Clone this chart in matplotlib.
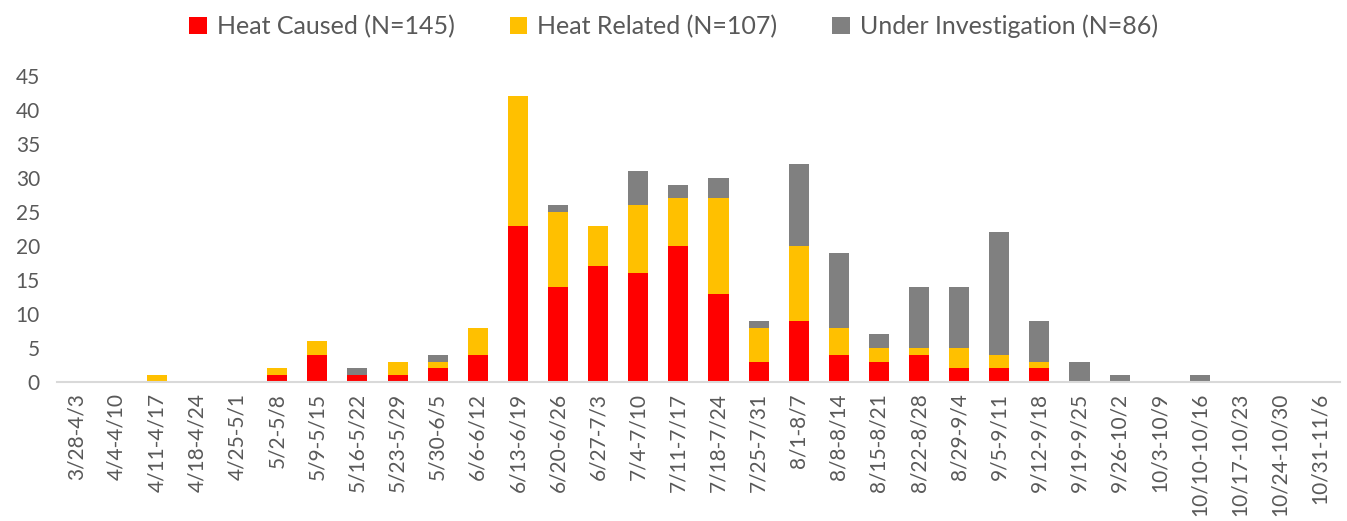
import matplotlib.pyplot as plt
import numpy as np

plt.rcParams['font.family'] = ['Lato', 'DejaVu Sans']

weeks = ['3/28-4/3', '4/4-4/10', '4/11-4/17', '4/18-4/24', '4/25-5/1', '5/2-5/8',
         '5/9-5/15', '5/16-5/22', '5/23-5/29', '5/30-6/5', '6/6-6/12', '6/13-6/19',
         '6/20-6/26', '6/27-7/3', '7/4-7/10', '7/11-7/17', '7/18-7/24', '7/25-7/31',
         '8/1-8/7', '8/8-8/14', '8/15-8/21', '8/22-8/28', '8/29-9/4', '9/5-9/11',
         '9/12-9/18', '9/19-9/25', '9/26-10/2', '10/3-10/9', '10/10-10/16',
         '10/17-10/23', '10/24-10/30', '10/31-11/6']
heat_caused = [0, 0, 0, 0, 0, 1, 4, 1, 1, 2, 4, 23, 14, 17, 16, 20, 13, 3, 9, 4,
               3, 4, 2, 2, 2, 0, 0, 0, 0, 0, 0, 0]
heat_related = [0, 0, 1, 0, 0, 1, 2, 0, 2, 1, 4, 19, 11, 6, 10, 7, 14, 5, 11, 4,
                2, 1, 3, 2, 1, 0, 0, 0, 0, 0, 0, 0]
under_investigation = [0, 0, 0, 0, 0, 0, 0, 1, 0, 1, 0, 0, 1, 0, 5, 2, 3, 1, 12, 11,
                       2, 9, 9, 18, 6, 3, 1, 0, 1, 0, 0, 0]

text_color = '#595959'

fig = plt.figure(figsize=(13.47, 5.21), dpi=100)
ax = fig.add_axes([0.042, 0.267, 0.953, 0.587])

x = np.arange(len(weeks))
hc = np.array(heat_caused)
hr = np.array(heat_related)
ui = np.array(under_investigation)

ax.bar(x, hc, width=0.5, color='#FF0000', label=f'Heat Caused (N={hc.sum()})')
ax.bar(x, hr, width=0.5, bottom=hc, color='#FFC000', label=f'Heat Related (N={hr.sum()})')
ax.bar(x, ui, width=0.5, bottom=hc + hr, color='#808080',
       label=f'Under Investigation (N={ui.sum()})')

ax.set_xlim(-0.5, len(weeks) - 0.5)
ax.set_ylim(0, 45)
ax.set_yticks(range(0, 46, 5))
ax.set_xticks(x)
ax.set_xticklabels(weeks, rotation=90)
ax.tick_params(axis='both', length=0, labelsize=15, labelcolor=text_color)
ax.tick_params(axis='x', pad=8)
ax.tick_params(axis='y', pad=12)

for side in ['top', 'right', 'left']:
    ax.spines[side].set_visible(False)
ax.spines['bottom'].set_color('#D9D9D9')
ax.spines['bottom'].set_linewidth(1.5)

fig.legend(loc='upper center', bbox_to_anchor=(0.5, 1.015), ncol=3, frameon=False,
           fontsize=18, labelcolor=text_color, handlelength=0.7, handleheight=0.7,
           handletextpad=0.4, columnspacing=2.2)

plt.savefig('out.png', dpi=100)
